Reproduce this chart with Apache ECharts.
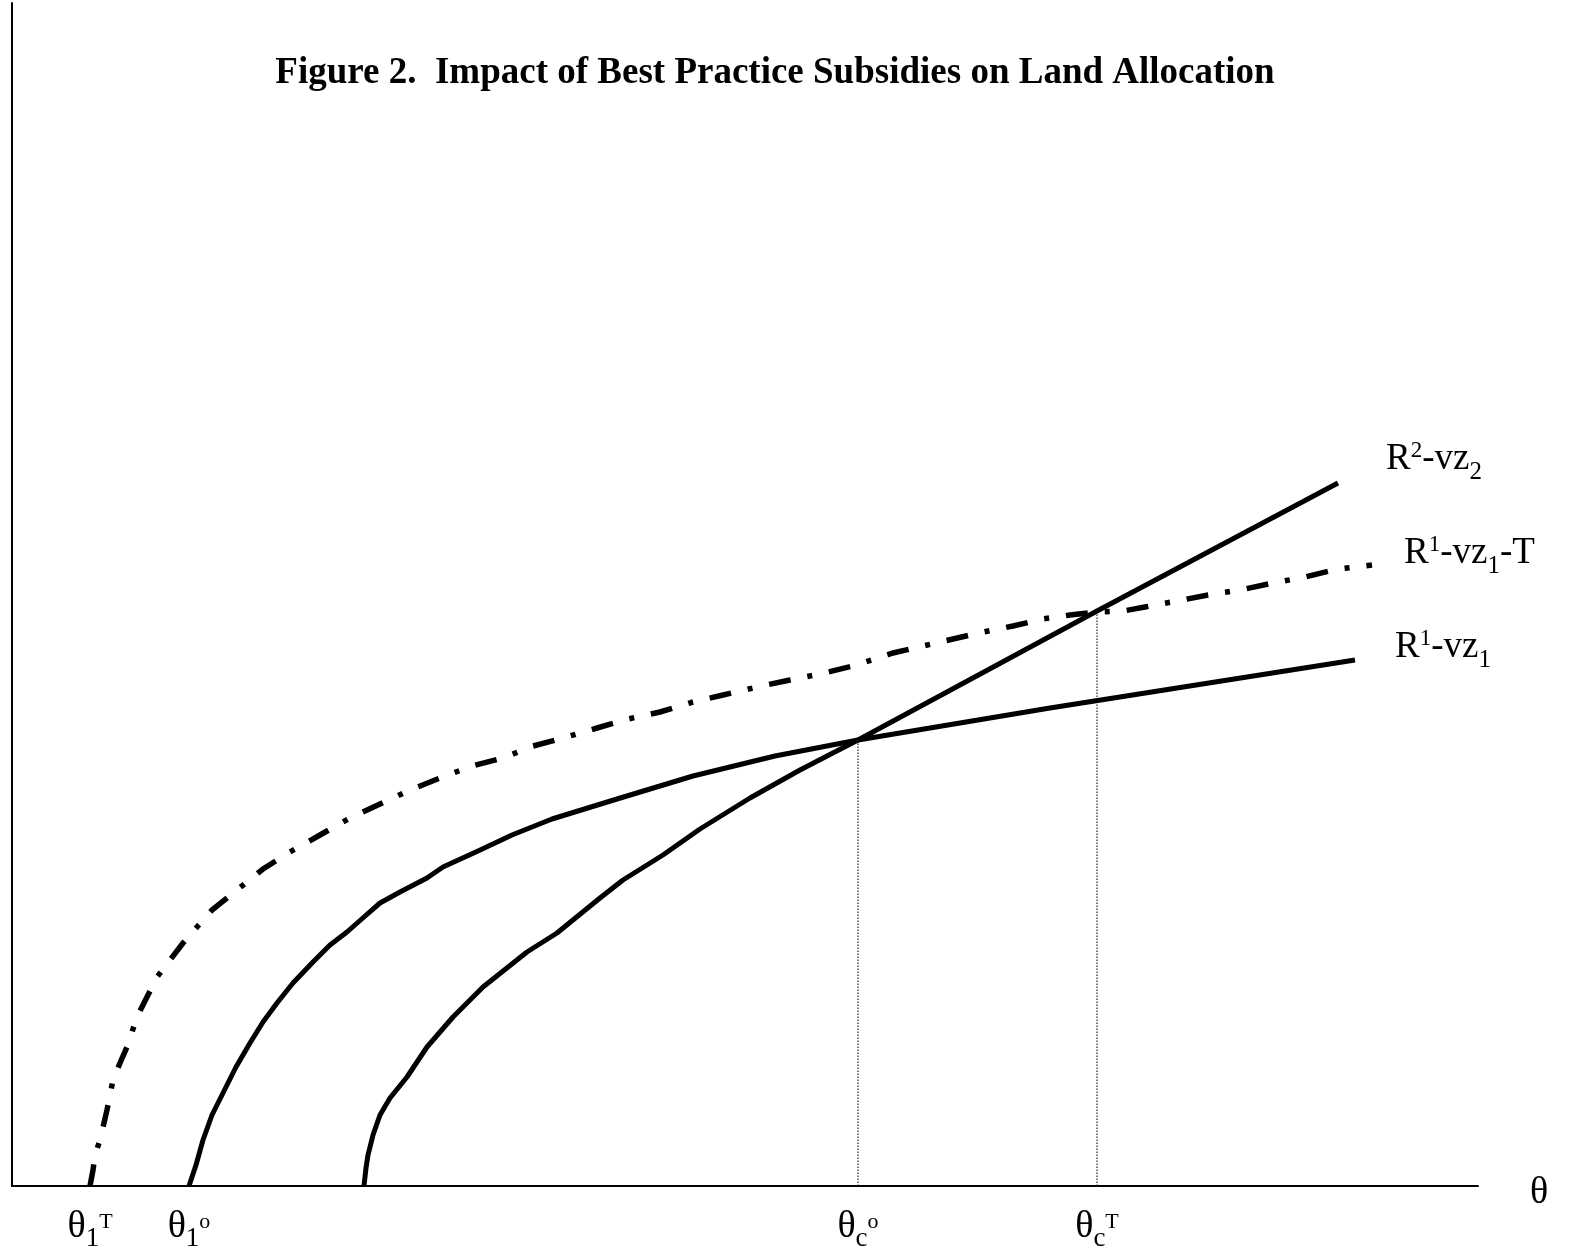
<!DOCTYPE html>
<html>
<head>
<meta charset="utf-8">
<script src="https://cdn.jsdelivr.net/npm/echarts@6/dist/echarts.min.js"></script>
<style>
html,body{margin:0;padding:0;background:#fff;}
#chart{width:1572px;height:1250px;}
</style>
</head>
<body>
<div id="chart"></div>
<script>
// Data (x = theta units, y = net returns units)
const r1 = [[177,0],[184,21],[191,46],[200,71],[211,93],[224,119],[238,143],[251,164],[265,183],[281,203],[301,224],[318,241],[335,254],[352,269],[368,283],[388,294],[415,308],[431,319],[466,335],[500,351],[540,367],[605,387],[681,410],[763,430],[846,446],[1038,478],[1343,526]];
const r2 = [[352,0],[354,18],[356,31],[361,51],[368,71],[378,88],[395,109],[415,139],[441,169],[471,199],[515,234],[545,253],[588,288],[611,306],[651,331],[688,357],[738,388],[788,416],[846,446],[1085,575],[1326,703]];
const r1T = [[78,0],[81,16],[83,31],[88,46],[95,76],[101,106],[108,123],[115,139],[125,169],[135,189],[145,209],[158,226],[171,243],[185,259],[200,276],[225,296],[251,317],[278,334],[308,351],[338,368],[368,382],[398,396],[428,408],[460,420],[491,428],[521,440],[551,448],[585,458],[616,467],[648,474],[681,484],[711,491],[745,499],[778,506],[808,512],[841,520],[881,533],[911,540],[941,547],[971,554],[1001,560],[1031,567],[1058,571],[1085,574],[1111,575],[1133,579],[1165,585],[1196,591],[1228,596],[1261,603],[1293,609],[1326,617],[1360,621]];
const crossO = [846, 446];   // R1 = R2
const crossT = [1085, 575];  // R1-T = R2
const tickValues = [78, 177, 846, 1085];
const tickLabels = ['{m|θ}{sub|1}{sup|T}', '{m|θ}{sub|1}{sup|o}', '{m|θ}{sub|c}{sup|o}', '{m|θ}{sub|c}{sup|T}'];
const seriesNames = ['R1-vz1', 'R2-vz2', 'R1-vz1-T'];
const seriesLabels = ['{m|R}{sup|1}{m|-vz}{sub|1}', '{m|R}{sup|2}{m|-vz}{sub|2}', '{m|R}{sup|1}{m|-vz}{sub|1}{m|-T}'];
const titleText = 'Figure 2.  Impact of Best Practice Subsidies on Land Allocation';

const FONT = '"Liberation Serif", "Times New Roman", serif';
const rich = {
  m: {fontFamily: FONT, fontSize: 37, lineHeight: 42, color: '#000'},
  sub: {fontFamily: FONT, fontSize: 25, lineHeight: 10, padding: [27, 0, 0, 0], color: '#000'},
  sup: {fontFamily: FONT, fontSize: 23, lineHeight: 10, padding: [0, 0, 16, 0], color: '#000'}
};
const axisRich = {
  m: {fontFamily: FONT, fontSize: 38, lineHeight: 42, color: '#000'},
  sub: {fontFamily: FONT, fontSize: 27, lineHeight: 10, padding: [24, 0, 0, 0], color: '#000'},
  sup: {fontFamily: FONT, fontSize: 22, lineHeight: 10, padding: [0, 0, 10, 0], color: '#000'}
};

function endMark(data, label, offset) {
  return {
    symbol: 'circle', symbolSize: 0, silent: true,
    data: [{coord: data[data.length - 1]}],
    label: {show: true, position: 'right', distance: 0, offset: offset, formatter: label, rich: rich}
  };
}

const chart = echarts.init(document.getElementById('chart'), null, {renderer: 'canvas'});
chart.setOption({
  animation: false,
  backgroundColor: '#fff',
  title: {
    text: titleText, left: 770, top: 50, textAlign: 'center',
    textStyle: {fontFamily: FONT, fontWeight: 'bold', fontSize: 37, color: '#000'}
  },
  grid: {left: 12, right: 94, top: 3, bottom: 64, containLabel: false, outerBoundsMode: 'none'},
  xAxis: {
    type: 'value', min: 0, max: 1466,
    name: 'θ', nameLocation: 'end', nameGap: 52,
    nameTextStyle: {fontFamily: FONT, fontSize: 38, color: '#000', verticalAlign: 'top', lineHeight: 14},
    axisLine: {show: true, onZero: false, lineStyle: {color: '#000', width: 2}},
    axisTick: {show: false},
    splitLine: {show: false},
    axisLabel: {
      show: true, customValues: tickValues, margin: 20,
      formatter: function (v) { return tickLabels[tickValues.indexOf(v)] || ''; },
      rich: axisRich
    }
  },
  yAxis: {
    type: 'value', min: 0, max: 1183,
    axisLine: {show: true, onZero: false, lineStyle: {color: '#000', width: 2}},
    axisTick: {show: false}, axisLabel: {show: false}, splitLine: {show: false}
  },
  series: [
    {
      name: seriesNames[0], type: 'line', data: r1, showSymbol: false, symbol: 'none',
      lineStyle: {color: '#000', width: 5, cap: 'butt', join: 'round'},
      markPoint: endMark(r1, seriesLabels[0], [40, -13])
    },
    {
      name: seriesNames[1], type: 'line', data: r2, showSymbol: false, symbol: 'none',
      lineStyle: {color: '#000', width: 5, cap: 'butt', join: 'round'},
      markPoint: endMark(r2, seriesLabels[1], [48, -24])
    },
    {
      name: seriesNames[2], type: 'line', data: r1T, showSymbol: false, symbol: 'none',
      lineStyle: {color: '#000', width: 5.5, type: [22, 17, 5, 17], cap: 'butt', join: 'miter'},
      markPoint: endMark(r1T, seriesLabels[2], [32, -12])
    },
    {
      name: 'dropO', type: 'line', data: [[crossO[0], 0], crossO], showSymbol: false, symbol: 'none', z: 1,
      lineStyle: {color: '#222', width: 1.2, type: [1.5, 1.5]}
    },
    {
      name: 'dropT', type: 'line', data: [[crossT[0], 0], crossT], showSymbol: false, symbol: 'none', z: 1,
      lineStyle: {color: '#222', width: 1.2, type: [1.5, 1.5]}
    }
  ]
});
</script>
</body>
</html>
